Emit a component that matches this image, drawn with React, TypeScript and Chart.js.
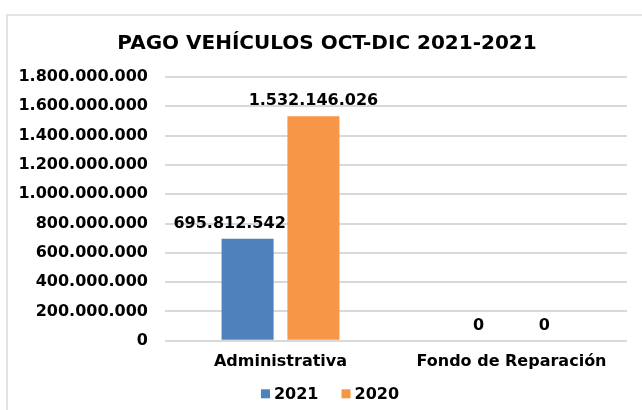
import React, { useEffect, useRef } from "react";
import { Chart, registerables } from "chart.js";

Chart.register(...registerables);

const categories = ["Administrativa", "Fondo de Reparación"];
const series2021 = [695812542, 0];
const series2020 = [1532146026, 0];
const seriesNames = ["2021", "2020"];
const titleText = "PAGO VEHÍCULOS OCT-DIC 2021-2021";

const FONT = "'DejaVu Sans', Verdana, sans-serif";

function fmt(v: number): string {
  return Math.round(v).toString().replace(/\B(?=(\d{3})+(?!\d))/g, ".");
}

// horizontal nudges of the value labels, per dataset / per category (style only)
const labelNudge = [
  [-18, 0],
  [0, 0],
];

const labelPlugin = {
  id: "barLabels",
  afterDatasetsDraw(chart: any) {
    const ctx = chart.ctx;
    ctx.save();
    ctx.font = `bold 16px ${FONT}`;
    ctx.fillStyle = "#000000";
    ctx.textAlign = "center";
    ctx.textBaseline = "alphabetic";
    chart.data.datasets.forEach((ds: any, di: number) => {
      const meta = chart.getDatasetMeta(di);
      meta.data.forEach((bar: any, i: number) => {
        const v = ds.data[i] as number;
        ctx.fillText(fmt(v), bar.x + labelNudge[di][i], bar.y - 11);
      });
    });
    ctx.restore();
  },
};

// Title centred on the whole chart frame (like Excel)
const titlePlugin = {
  id: "excelTitle",
  afterDraw(chart: any) {
    const ctx = chart.ctx;
    ctx.save();
    ctx.font = `bold 20px ${FONT}`;
    ctx.fillStyle = "#000000";
    ctx.textAlign = "center";
    ctx.textBaseline = "middle";
    ctx.fillText(titleText, chart.width / 2 - 1, 28);
    ctx.restore();
  },
};

// Excel-like legend: small square, tight gap, wider spacing between items
const legendPlugin = {
  id: "excelLegend",
  afterDraw(chart: any) {
    const ctx = chart.ctx;
    const box = 9;
    const gap = 4;
    const spacing = 23;
    ctx.save();
    ctx.font = `bold 16px ${FONT}`;
    ctx.textBaseline = "middle";
    ctx.textAlign = "left";
    const items = chart.data.datasets.map((ds: any) => ({
      text: ds.label as string,
      color: ds.backgroundColor as string,
      w: ctx.measureText(ds.label).width,
    }));
    const total =
      items.reduce((s: number, it: any) => s + box + gap + it.w, 0) + spacing * (items.length - 1);
    let x = chart.width / 2 + 2 - total / 2;
    const y = chart.chartArea.bottom + 53;
    items.forEach((it: any) => {
      ctx.fillStyle = it.color;
      ctx.fillRect(x, y - box / 2, box, box);
      ctx.fillStyle = "#000000";
      ctx.fillText(it.text, x + box + gap, y + 1);
      x += box + gap + it.w + spacing;
    });
    ctx.restore();
  },
};

export default function App() {
  const ref = useRef<HTMLCanvasElement | null>(null);
  useEffect(() => {
    if (!ref.current) return;
    const chart = new Chart(ref.current, {
      type: "bar",
      data: {
        labels: categories,
        datasets: [
          { label: seriesNames[0], data: series2021, backgroundColor: "#4f81bd" },
          { label: seriesNames[1], data: series2020, backgroundColor: "#f79646" },
        ],
      },
      options: {
        animation: false,
        responsive: false,
        maintainAspectRatio: false,
        layout: { padding: { left: 0, right: 21, top: 61, bottom: 52 } },
        datasets: { bar: { categoryPercentage: 0.57, barPercentage: 0.79 } },
        plugins: {
          title: { display: false },
          legend: { display: false },
          tooltip: { enabled: false },
        },
        scales: {
          x: {
            grid: { display: false },
            border: { display: false },
            ticks: {
              color: "#000000",
              padding: 3,
              font: { family: FONT, size: 16, weight: "bold" },
            },
          },
          y: {
            min: 0,
            max: 1800000000,
            grid: { color: "#d9d9d9", lineWidth: 2, drawTicks: false },
            border: { display: false },
            ticks: {
              stepSize: 200000000,
              color: "#000000",
              padding: 17,
              font: { family: FONT, size: 16, weight: "bold" },
              callback: (v: any) => fmt(Number(v)),
            },
            afterFit: (scale: any) => {
              scale.width = 157;
            },
          },
        },
      },
      plugins: [labelPlugin, titlePlugin, legendPlugin],
    });
    return () => chart.destroy();
  }, []);
  return (
    <div
      style={{
        position: "fixed",
        left: 6,
        top: 14,
        width: 660,
        height: 430,
        border: "2px solid #e3e3e3",
        background: "#ffffff",
      }}
    >
      <canvas ref={ref} width={640} height={410} style={{ display: "block" }} />
    </div>
  );
}
